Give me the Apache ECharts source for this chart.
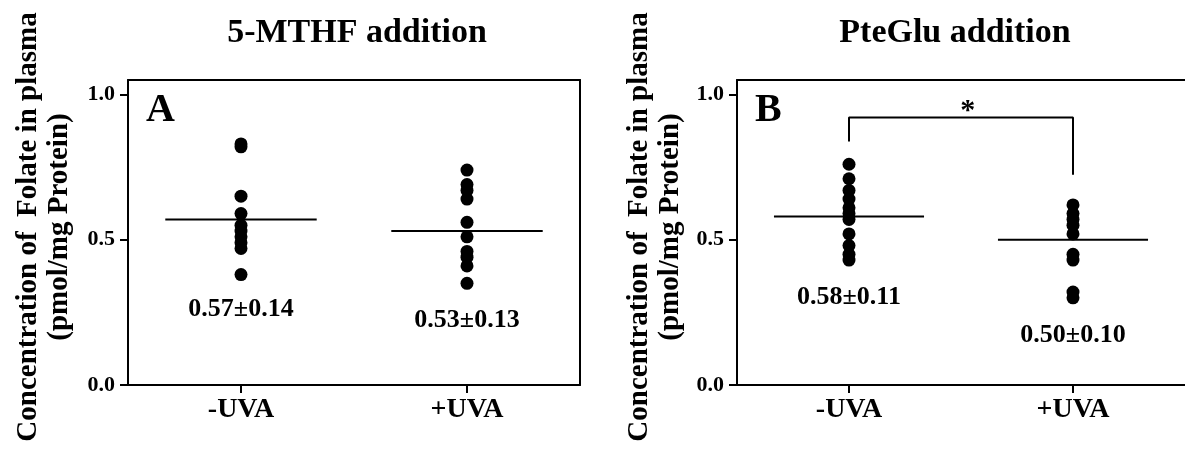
<!DOCTYPE html>
<html><head><meta charset="utf-8">
<script src="https://cdn.jsdelivr.net/npm/echarts@6/dist/echarts.min.js"></script>
<style>html,body{margin:0;padding:0;background:#fff}#c{width:1185px;height:450px}</style>
</head><body><div id="c"></div>
<script>
// ---------- data ----------
const categories = ['-UVA', '+UVA'];
const yTickValues = [0, 0.5, 1.0];
const panelTitles = ['5-MTHF addition', 'PteGlu addition'];
const panelLetters = ['A', 'B'];
const yNameLine1 = 'Concentration of  Folate in plasma';
const yNameLine2 = '(pmol/mg Protein)';

const mthfMinusUVA = [0.83, 0.82, 0.65, 0.59, 0.55, 0.53, 0.51, 0.49, 0.47, 0.38];
const mthfPlusUVA  = [0.74, 0.69, 0.67, 0.64, 0.56, 0.51, 0.46, 0.44, 0.41, 0.35];
const pteMinusUVA  = [0.76, 0.71, 0.67, 0.64, 0.61, 0.59, 0.57, 0.52, 0.48, 0.45, 0.43];
const ptePlusUVA   = [0.62, 0.59, 0.57, 0.55, 0.52, 0.45, 0.43, 0.32, 0.30];

const mthfMean = [0.57, 0.53];
const mthfSD   = [0.14, 0.13];
const pteMean  = [0.58, 0.50];
const pteSD    = [0.11, 0.10];
const significanceMark = '*';   // -UVA vs +UVA, PteGlu panel

// ---------- styling / layout ----------
const FONT = '"Liberation Serif", "Times New Roman", serif';
const BLACK = '#000';
const halfMeanWidth = 0.335;

const panels = [
  { groups: [mthfMinusUVA, mthfPlusUVA], mean: mthfMean, sd: mthfSD,
    labelY: [0.259, 0.224], grid: { left: 128, top: 80, width: 452, height: 305 }, rightBorder: true },
  { groups: [pteMinusUVA, ptePlusUVA], mean: pteMean, sd: pteSD,
    labelY: [0.303, 0.172], grid: { left: 737, top: 80, width: 448, height: 305 }, rightBorder: false }
];

const grid = [], xAxis = [], yAxis = [], series = [];

function textPoint(xi, yi, x, y, text, size, align) {
  return {
    type: 'scatter', xAxisIndex: xi, yAxisIndex: yi, silent: true, symbolSize: 0,
    data: [[x, y]],
    itemStyle: { opacity: 1, color: BLACK },
    label: { show: true, position: 'inside', formatter: text, color: BLACK, opacity: 1,
      fontFamily: FONT, fontWeight: 'bold', fontSize: size, align: align || 'center', verticalAlign: 'middle' },
    z: 5
  };
}

panels.forEach((p, i) => {
  grid.push(p.grid);
  const xb = xAxis.length;
  xAxis.push({
    gridIndex: i, type: 'value', min: -0.5, max: 1.5, position: 'bottom',
    axisLine: { show: true, onZero: false, lineStyle: { color: BLACK, width: 2 } },
    axisTick: { show: true, customValues: [0, 1], length: 8, lineStyle: { color: BLACK, width: 2 } },
    axisLabel: { show: true, customValues: [0, 1], formatter: v => categories[Math.round(v)],
      margin: 11, color: BLACK, fontFamily: FONT, fontWeight: 'bold', fontSize: 28 },
    splitLine: { show: false }
  });
  xAxis.push({
    gridIndex: i, type: 'value', min: -0.5, max: 1.5, position: 'top',
    axisLine: { show: true, onZero: false, lineStyle: { color: BLACK, width: 2 } },
    axisTick: { show: false }, axisLabel: { show: false }, splitLine: { show: false }
  });
  const yl = yAxis.length;
  yAxis.push({
    gridIndex: i, type: 'value', min: 0, max: 1.05, position: 'left',
    axisLine: { show: true, onZero: false, lineStyle: { color: BLACK, width: 2 } },
    axisTick: { show: true, customValues: yTickValues, length: 8, lineStyle: { color: BLACK, width: 2 } },
    axisLabel: { show: true, customValues: yTickValues, formatter: v => v.toFixed(1), margin: 13,
      color: BLACK, fontFamily: FONT, fontWeight: 'bold', fontSize: 22 },
    splitLine: { show: false }
  });
  if (p.rightBorder) {
    yAxis.push({
      gridIndex: i, type: 'value', min: 0, max: 1.05, position: 'right',
      axisLine: { show: true, onZero: false, lineStyle: { color: BLACK, width: 2 } },
      axisTick: { show: false }, axisLabel: { show: false }, splitLine: { show: false }
    });
  }
  // dots
  const pts = [];
  p.groups.forEach((g, gi) => g.forEach(v => pts.push([gi, v])));
  series.push({
    type: 'scatter', xAxisIndex: xb, yAxisIndex: yl, data: pts, symbolSize: 13,
    itemStyle: { color: BLACK, opacity: 1 }, silent: true, z: 3
  });
  // mean lines + stat labels
  p.mean.forEach((m, gi) => {
    series.push({
      type: 'line', xAxisIndex: xb, yAxisIndex: yl, symbol: 'none', silent: true,
      data: [[gi - halfMeanWidth, m], [gi + halfMeanWidth, m]],
      lineStyle: { color: BLACK, width: 2 }, z: 4
    });
    series.push(textPoint(xb, yl, gi, p.labelY[gi], m.toFixed(2) + '\u00b1' + p.sd[gi].toFixed(2), 26));
  });
  // panel letter
  series.push(textPoint(xb, yl, -0.42, 0.945, panelLetters[i], 40, 'left'));
  if (i === 1) {
    series.push({
      type: 'line', xAxisIndex: xb, yAxisIndex: yl, symbol: 'none', silent: true,
      data: [[0, 0.838], [0, 0.921], [1, 0.921], [1, 0.724]],
      lineStyle: { color: BLACK, width: 2 }, z: 4
    });
    series.push(textPoint(xb, yl, 0.53, 0.941, significanceMark, 30));
  }
});

const graphic = [];
const titleCenters = [357, 955];
const nameX = [[29, 60], [640, 671]];
panelTitles.forEach((t, i) => {
  graphic.push({ type: 'text', x: titleCenters[i], y: 33, silent: true,
    style: { text: t, fill: BLACK, font: 'bold 34px ' + FONT, textAlign: 'center', textVerticalAlign: 'middle' } });
  [yNameLine1, yNameLine2].forEach((s, li) => {
    graphic.push({ type: 'text', x: nameX[i][li], y: 227, rotation: Math.PI / 2, silent: true,
      style: { text: s, fill: BLACK, font: 'bold 29px ' + FONT, textAlign: 'center', textVerticalAlign: 'middle' } });
  });
});

const chart = echarts.init(document.getElementById('c'), null, { renderer: 'canvas' });
chart.setOption({
  backgroundColor: '#fff',
  animation: false,
  grid, xAxis, yAxis, series, graphic
});
</script>
</body></html>
